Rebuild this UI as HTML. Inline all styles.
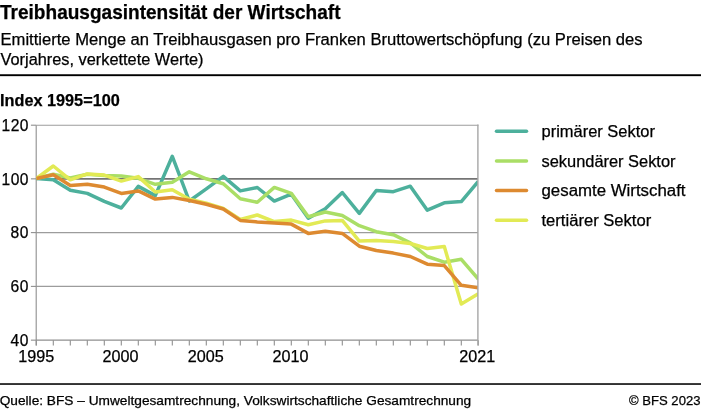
<!DOCTYPE html>
<html lang="de"><head><meta charset="utf-8"><title>Treibhausgasintensität der Wirtschaft</title>
<style>
html,body{margin:0;padding:0;background:#fff;}
body{width:701px;height:410px;overflow:hidden;font-family:"Liberation Sans",sans-serif;}
svg{display:block;}
text{font-family:"Liberation Sans",sans-serif;fill:#000;stroke:#000;stroke-width:0.25px;}
.b{font-weight:bold;}
</style></head><body>
<svg width="701" height="410" viewBox="0 0 701 410">
<rect width="701" height="410" fill="#fff"/>
<text class="b" x="0" y="18.6" font-size="19.7" textLength="340.5" lengthAdjust="spacingAndGlyphs">Treibhausgasintensität der Wirtschaft</text>
<text x="0.5" y="45" font-size="16" textLength="642" lengthAdjust="spacingAndGlyphs">Emittierte Menge an Treibhausgasen pro Franken Bruttowertschöpfung (zu Preisen des</text>
<text x="0.5" y="65" font-size="16" textLength="203" lengthAdjust="spacingAndGlyphs">Vorjahres, verkettete Werte)</text>
<rect x="0" y="74.25" width="701" height="1.9" fill="#000"/>
<text class="b" x="0" y="105.5" font-size="16.5" textLength="119.8" lengthAdjust="spacingAndGlyphs">Index 1995=100</text>
<g stroke="#9c9c9c" stroke-width="1.1" fill="none">
<line x1="36.2" y1="125.2" x2="478.4" y2="125.2"/>
<line x1="36.2" y1="232.6" x2="477.9" y2="232.6"/>
<line x1="36.2" y1="286.4" x2="477.9" y2="286.4"/>
</g>
<line x1="36.2" y1="178.85" x2="477.9" y2="178.85" stroke="#747474" stroke-width="1.6"/>
<g stroke="#8f8f8f" stroke-width="1.1" fill="none">
<line x1="36.2" y1="125.2" x2="36.2" y2="345.4"/>
<line x1="36.2" y1="340.15" x2="477.9" y2="340.15"/>
<line x1="30.9" y1="125.2" x2="36.2" y2="125.2"/>
<line x1="30.9" y1="178.85" x2="36.2" y2="178.85"/>
<line x1="30.9" y1="232.6" x2="36.2" y2="232.6"/>
<line x1="30.9" y1="286.4" x2="36.2" y2="286.4"/>
<line x1="30.9" y1="340.15" x2="36.2" y2="340.15"/>
<line x1="36.3" y1="340.15" x2="36.3" y2="345.4"/><line x1="53.3" y1="340.15" x2="53.3" y2="345.4"/><line x1="70.3" y1="340.15" x2="70.3" y2="345.4"/><line x1="87.3" y1="340.15" x2="87.3" y2="345.4"/><line x1="104.3" y1="340.15" x2="104.3" y2="345.4"/><line x1="121.3" y1="340.15" x2="121.3" y2="345.4"/><line x1="138.3" y1="340.15" x2="138.3" y2="345.4"/><line x1="155.3" y1="340.15" x2="155.3" y2="345.4"/><line x1="172.3" y1="340.15" x2="172.3" y2="345.4"/><line x1="189.3" y1="340.15" x2="189.3" y2="345.4"/><line x1="206.3" y1="340.15" x2="206.3" y2="345.4"/><line x1="223.3" y1="340.15" x2="223.3" y2="345.4"/><line x1="240.3" y1="340.15" x2="240.3" y2="345.4"/><line x1="257.3" y1="340.15" x2="257.3" y2="345.4"/><line x1="274.3" y1="340.15" x2="274.3" y2="345.4"/><line x1="291.3" y1="340.15" x2="291.3" y2="345.4"/><line x1="308.3" y1="340.15" x2="308.3" y2="345.4"/><line x1="325.3" y1="340.15" x2="325.3" y2="345.4"/><line x1="342.3" y1="340.15" x2="342.3" y2="345.4"/><line x1="359.3" y1="340.15" x2="359.3" y2="345.4"/><line x1="376.3" y1="340.15" x2="376.3" y2="345.4"/><line x1="393.3" y1="340.15" x2="393.3" y2="345.4"/><line x1="410.3" y1="340.15" x2="410.3" y2="345.4"/><line x1="427.3" y1="340.15" x2="427.3" y2="345.4"/><line x1="444.3" y1="340.15" x2="444.3" y2="345.4"/><line x1="461.3" y1="340.15" x2="461.3" y2="345.4"/><line x1="478.3" y1="340.15" x2="478.3" y2="345.4"/>
</g>
<clipPath id="c"><rect x="36.2" y="120" width="441.7" height="225"/></clipPath>
<g clip-path="url(#c)" fill="none" stroke-width="3.5" stroke-linejoin="round" stroke-linecap="butt">
<polyline stroke="#4db09c" points="36.3,178.5 53.3,179.7 70.3,190.2 87.3,193.4 104.3,201.3 121.3,208.0 138.3,186.4 155.3,195.6 172.3,156.3 189.3,201.0 206.3,188.9 223.3,176.4 240.3,190.9 257.3,187.5 274.3,201.1 291.3,194.2 308.3,218.2 325.3,208.8 342.3,192.5 359.3,213.4 376.3,190.5 393.3,191.7 410.3,186.2 427.3,210.2 444.3,202.8 461.3,201.6 478.3,181.4"/>
<polyline stroke="#aade66" points="36.3,178.5 53.3,174.2 70.3,178.0 87.3,174.2 104.3,175.4 121.3,176.0 138.3,178.3 155.3,184.3 172.3,182.2 189.3,171.8 206.3,178.8 223.3,183.7 240.3,198.8 257.3,202.3 274.3,187.4 291.3,193.4 308.3,216.8 325.3,212.0 342.3,215.5 359.3,225.7 376.3,231.7 393.3,234.7 410.3,242.8 427.3,256.5 444.3,262.2 461.3,259.3 478.3,279.0"/>
<polyline stroke="#e2ea55" points="36.3,178.5 53.3,166.0 70.3,179.8 87.3,173.9 104.3,175.1 121.3,181.1 138.3,176.6 155.3,192.0 172.3,189.7 189.3,199.3 206.3,203.2 223.3,208.5 240.3,219.5 257.3,215.0 274.3,221.6 291.3,220.1 308.3,224.8 325.3,220.9 342.3,220.4 359.3,241.1 376.3,240.4 393.3,241.5 410.3,243.5 427.3,248.5 444.3,246.6 461.3,304.0 478.3,293.8"/>
<polyline stroke="#dd8a30" points="36.3,178.5 53.3,174.8 70.3,185.4 87.3,184.2 104.3,187.1 121.3,193.4 138.3,190.9 155.3,199.1 172.3,197.4 189.3,200.5 206.3,204.2 223.3,209.0 240.3,220.4 257.3,221.9 274.3,223.0 291.3,224.1 308.3,233.4 325.3,231.3 342.3,233.4 359.3,246.2 376.3,250.5 393.3,253.1 410.3,256.5 427.3,264.2 444.3,265.6 461.3,285.3 478.3,287.8"/>
</g>
<line x1="477.9" y1="124.6" x2="477.9" y2="345.4" stroke="#a6a6a6" stroke-width="1.4"/>
<g font-size="15.6" text-anchor="end" lengthAdjust="spacingAndGlyphs">
<text x="28.5" y="130.6" textLength="27">120</text>
<text x="28.5" y="184.5" textLength="27">100</text>
<text x="28.5" y="238.4" textLength="18">80</text>
<text x="28.5" y="292.2" textLength="18">60</text>
<text x="28.5" y="345.5" textLength="18">40</text>
</g>
<g font-size="15.6" text-anchor="middle">
<text x="36.3" y="361.6" textLength="36" lengthAdjust="spacingAndGlyphs">1995</text>
<text x="120.4" y="361.6" textLength="36" lengthAdjust="spacingAndGlyphs">2000</text>
<text x="205.8" y="361.6" textLength="36" lengthAdjust="spacingAndGlyphs">2005</text>
<text x="290.5" y="361.6" textLength="36" lengthAdjust="spacingAndGlyphs">2010</text>
<text x="477.3" y="361.6" textLength="36" lengthAdjust="spacingAndGlyphs">2021</text>
</g>
<g fill="none" stroke-width="3.5" stroke-linecap="round">
<line x1="496.5" y1="131.2" x2="526.5" y2="131.2" stroke="#4db09c"/>
<line x1="496.5" y1="160.9" x2="526.5" y2="160.9" stroke="#aade66"/>
<line x1="496.5" y1="190.5" x2="526.5" y2="190.5" stroke="#dd8a30"/>
<line x1="496.5" y1="220.2" x2="526.5" y2="220.2" stroke="#e2ea55"/>
</g>
<g font-size="16">
<text x="541.5" y="137.2" textLength="113.4" lengthAdjust="spacingAndGlyphs">primärer Sektor</text>
<text x="541.5" y="166.8" textLength="134" lengthAdjust="spacingAndGlyphs">sekundärer Sektor</text>
<text x="541.5" y="196.3" textLength="144" lengthAdjust="spacingAndGlyphs">gesamte Wirtschaft</text>
<text x="541.5" y="225.8" textLength="109.7" lengthAdjust="spacingAndGlyphs">tertiärer Sektor</text>
</g>
<rect x="0" y="383.25" width="701" height="1.55" fill="#000"/>
<text x="-0.3" y="405.2" font-size="13" textLength="471.5" lengthAdjust="spacingAndGlyphs">Quelle: BFS – Umweltgesamtrechnung, Volkswirtschaftliche Gesamtrechnung</text>
<text x="629" y="405.2" font-size="13" textLength="71.5" lengthAdjust="spacingAndGlyphs">© BFS 2023</text>
</svg>
</body></html>
